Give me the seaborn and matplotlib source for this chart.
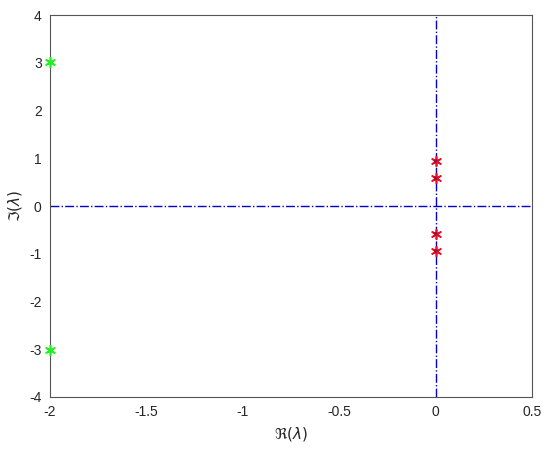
import numpy as np
import pandas as pd
import seaborn as sns
import matplotlib.pyplot as plt

# eigenvalues
re_red = [0, 0, 0, 0]
im_red = [0.94, 0.58, -0.58, -0.94]
re_green = [-2, -2]
im_green = [3.02, -3.02]

sns.set_style('ticks')
plt.rcParams['font.family'] = ['Liberation Sans', 'DejaVu Sans']

fig = plt.figure(figsize=(5.5, 4.49), dpi=100)
ax = fig.add_axes([50 / 550, (449 - 397) / 449, 482 / 550, 382 / 449])

red = pd.DataFrame({'re': re_red, 'im': im_red})
green = pd.DataFrame({'re': re_green, 'im': im_green})

ax.axhline(0, color='#0000c8', ls='-.', lw=1.0, zorder=1)
ax.axvline(0, color='#0000c8', ls='-.', lw=1.0, zorder=1)

sns.scatterplot(data=red, x='re', y='im', marker=(6, 2, 0), s=48,
                color='#e8102a', edgecolor='#e8102a', linewidth=1.2, ax=ax, zorder=3)
sns.scatterplot(data=red, x='re', y='im', marker='o', s=7,
                color='#a0103a', edgecolor='none', ax=ax, zorder=4)
sns.scatterplot(data=green, x='re', y='im', marker=(6, 2, 0), s=48,
                color='#22ee22', edgecolor='#22ee22', linewidth=1.2, ax=ax,
                zorder=3, clip_on=False)

ax.set_xlim(-2, 0.5)
ax.set_ylim(-4, 4)
ax.set_xticks([-2, -1.5, -1, -0.5, 0, 0.5])
ax.set_xticklabels(['-2', '-1.5', '-1', '-0.5', '0', '0.5'])
ax.set_yticks(range(-4, 5))
ax.set_yticklabels([str(v) for v in range(-4, 5)])
ax.tick_params(length=0, labelsize=10, pad=6, colors='#262626')
for s in ax.spines.values():
    s.set_linewidth(0.8)
    s.set_color('#555555')
ax.set_xlabel(r'$\Re(\lambda)$', fontsize=11, labelpad=4)
ax.set_ylabel(r'$\Im(\lambda)$', fontsize=11, labelpad=4)

fig.savefig('out.png', dpi=100)
